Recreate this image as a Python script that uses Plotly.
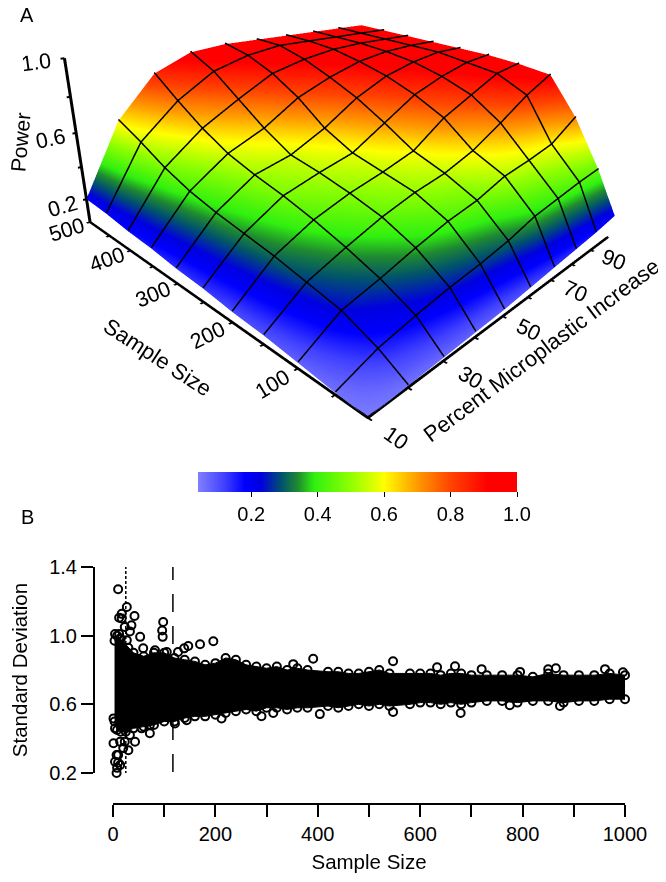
import plotly.graph_objects as go

W = 650
H = 866
PAD = 8  # the page keeps its default body margin


def fx(px):
    return (px - PAD) / W


def fy(py):
    return 1 - (py - PAD) / H


# panel A: power surface
percent = [10, 20, 30, 40, 50, 60, 70, 80, 90, 100]
sample = [10, 50, 100, 150, 200, 250, 300, 350, 400, 450, 500]
power = [
    [0.05, 0.06, 0.07, 0.08, 0.09, 0.11, 0.13, 0.15, 0.17, 0.20],
    [0.06, 0.15, 0.20, 0.24, 0.27, 0.31, 0.37, 0.40, 0.43, 0.45],
    [0.08, 0.23, 0.29, 0.36, 0.42, 0.46, 0.53, 0.56, 0.60, 0.72],
    [0.10, 0.27, 0.36, 0.44, 0.50, 0.54, 0.61, 0.72, 0.84, 0.93],
    [0.11, 0.31, 0.42, 0.49, 0.54, 0.60, 0.74, 0.83, 0.92, 0.95],
    [0.13, 0.34, 0.47, 0.53, 0.58, 0.70, 0.82, 0.89, 0.94, 0.96],
    [0.14, 0.37, 0.51, 0.56, 0.66, 0.79, 0.88, 0.93, 0.96, 0.96],
    [0.16, 0.41, 0.56, 0.65, 0.78, 0.86, 0.92, 0.95, 0.96, 0.96],
    [0.17, 0.47, 0.64, 0.76, 0.87, 0.92, 0.95, 0.96, 0.96, 0.96],
    [0.19, 0.55, 0.74, 0.87, 0.93, 0.96, 0.96, 0.96, 0.96, 0.96],
    [0.20, 0.62, 0.85, 0.94, 0.96, 0.96, 0.96, 0.96, 0.96, 0.96],
]
stop_vals = [0.04, 0.12, 0.18, 0.23, 0.29, 0.34, 0.39, 0.50, 0.60, 0.70, 0.80, 0.91, 1.0]
stop_cols = ["#8080ff", "#4040ff", "#0000ff", "#0000e0", "#005070", "#1f8a30", "#30f010",
             "#90ff00", "#ffff00", "#ff9a00", "#ff4400", "#ff0000", "#ff0000"]

# panel B: outer edge of the cloud, then the stray circles
upper_n = [3, 8, 15, 30, 40, 60, 80, 100, 120, 140, 160, 180, 200, 220, 240, 260, 280, 300, 320, 340,
           360, 380, 420, 440, 460, 480, 500, 520, 540, 580, 600, 620, 640, 660, 680, 700, 730, 760,
           790, 820, 850, 880, 910, 940, 970, 1000]
upper_sd = [0.97, 1.00, 0.98, 0.93, 0.90, 0.88, 0.90, 0.90, 0.87, 0.86, 0.85, 0.83, 0.84, 0.87, 0.86,
            0.83, 0.82, 0.81, 0.82, 0.80, 0.81, 0.80, 0.79, 0.79, 0.78, 0.78, 0.79, 0.80, 0.78, 0.78,
            0.78, 0.78, 0.77, 0.78, 0.78, 0.77, 0.77, 0.77, 0.77, 0.76, 0.78, 0.77, 0.77, 0.77, 0.78, 0.77]
lower_n = [3, 8, 15, 25, 40, 60, 80, 100, 120, 140, 160, 180, 200, 220, 240, 260, 280, 300, 320, 340,
           360, 380, 420, 440, 460, 480, 500, 520, 540, 580, 600, 620, 640, 660, 680, 700, 730, 760,
           790, 820, 850, 880, 910, 940, 970, 1000]
lower_sd = [0.50, 0.45, 0.44, 0.44, 0.46, 0.47, 0.48, 0.50, 0.50, 0.52, 0.53, 0.53, 0.54, 0.55, 0.56,
            0.57, 0.56, 0.58, 0.58, 0.57, 0.58, 0.58, 0.59, 0.58, 0.59, 0.60, 0.59, 0.60, 0.59, 0.60,
            0.61, 0.61, 0.60, 0.61, 0.60, 0.61, 0.62, 0.62, 0.61, 0.62, 0.62, 0.61, 0.62, 0.62, 0.63, 0.63]
stray_n = [5, 10, 27, 17, 12, 42, 36, 33, 53, 4, 12, 98, 96, 97, 196, 170, 147, 139, 127, 212, 144, 121,
           72, 43, 30, 20, 7, 10, 7, 6, 5, 6, 8, 391, 352, 547, 290, 547, 404, 313, 668, 633, 679, 795,
           996, 961, 720, 873, 775, 850, 865, 1, 4, 1, 14, 23, 33, 56, 72, 10, 4, 14, 1, 59, 82, 105,
           17, 23, 14, 27]
stray_sd = [1.41, 1.27, 1.167, 1.127, 1.104, 1.115, 1.06, 1.025, 0.993, 1.01, 1.01, 1.08, 1.03, 0.993,
            0.967, 0.95, 0.94, 0.926, 0.905, 0.517, 0.508, 0.488, 0.432, 0.382, 0.333, 0.345, 0.305, 0.26,
            0.20, 0.12, 0.10, 0.083, 0.23, 0.866, 0.834, 0.851, 0.531, 0.556, 0.543, 0.55, 0.822, 0.816,
            0.55, 0.789, 0.787, 0.805, 0.805, 0.59, 0.595, 0.804, 0.81, 0.518, 0.46, 0.373, 0.382, 0.382,
            0.421, 0.46, 0.479, 0.305, 0.266, 0.247, 0.198, 0.927, 0.915, 0.905, 1.10, 1.05, 0.985, 0.973]
dotted_n = 25
dashed_n = 117

fnt = "Liberation Sans, Arial, sans-serif"
tick_font = dict(size=20, family=fnt, color="black")
title_font = dict(size=20.5, family=fnt, color="black")
span = stop_vals[-1] - stop_vals[0]
cscale = [[(v - stop_vals[0]) / span, c] for v, c in zip(stop_vals, stop_cols)]

fig = go.Figure()
fig.add_trace(go.Surface(
    x=percent, y=sample, z=power,
    colorscale=cscale, cmin=stop_vals[0], cmax=1.0,
    lighting=dict(ambient=1, diffuse=0, specular=0, fresnel=0),
    hoverinfo="skip",
    colorbar=dict(
        orientation="h", x=fx(198), xanchor="left", len=319 / W, lenmode="fraction",
        y=fy(472), yanchor="top", thickness=20, outlinewidth=0, xpad=0, ypad=0,
        tickvals=[0.2, 0.4, 0.6, 0.8, 1.0], ticktext=["0.2", "0.4", "0.6", "0.8", "1.0"],
        ticks="outside", ticklen=5, tickcolor="black", tickfont=tick_font,
    ),
))

# surface contours stay 1px in gl, so the mesh is drawn as 3d lines along the same table
lift = 0.006
grid_line = dict(color="black", width=3)
for i, n in enumerate(sample):
    if 0 < i < len(sample) - 1:
        fig.add_trace(go.Scatter3d(x=percent, y=[n] * len(percent), z=[v + lift for v in power[i]],
                                   mode="lines", line=grid_line, hoverinfo="skip"))
for j, p in enumerate(percent):
    if 0 < j < len(percent) - 1:
        fig.add_trace(go.Scatter3d(x=[p] * len(sample), y=sample, z=[row[j] + lift for row in power],
                                   mode="lines", line=grid_line, hoverinfo="skip"))

axis3d = dict(showgrid=False, zeroline=False, showbackground=False, showspikes=False, showline=True,
              linecolor="black", linewidth=6, ticks="outside", tickcolor="black", tickwidth=4, ticklen=3,
              tickfont=dict(size=16, family=fnt, color="black"), autorange=False, title=dict(text=""))


def label(text, px, py, size, angle=0):
    return dict(text=text, x=fx(px), y=fy(py), xref="paper", yref="paper", xanchor="center", yanchor="middle",
                showarrow=False, textangle=angle, font=dict(size=size))


fig.update_layout(
    width=W, height=H, autosize=False, margin=dict(l=0, r=0, t=0, b=0, autoexpand=False),
    paper_bgcolor="white", plot_bgcolor="white", showlegend=False,
    font=dict(family=fnt, color="black", size=18),
    scene=dict(
        domain=dict(x=[0, 1], y=[1 - 520 / H, 1]),
        aspectmode="manual", aspectratio=dict(x=1.063, y=1.0, z=0.433),
        camera=dict(eye=dict(x=-1.2104, y=-0.9915, z=0.5986),
                    center=dict(x=-0.1551, y=-0.0567, z=-0.2541),
                    up=dict(x=0.3394, y=0.3958, z=0.8534)),
        xaxis=dict(axis3d, range=[10, 100],
                   tickvals=percent[:-1], ticktext=["10", "", "30", "", "50", "", "70", "", "90"]),
        yaxis=dict(axis3d, range=[10, 500],
                   tickvals=[50, 100, 150, 200, 250, 300, 350, 400, 450, 500],
                   ticktext=["", "100", "", "200", "", "300", "", "400", "", "500"]),
        zaxis=dict(axis3d, range=[0.05, 1.0],
                   tickvals=[0.2, 0.4, 0.6, 0.8, 1.0], ticktext=["0.2", "", "0.6", "", "1.0"]),
    ),
    xaxis=dict(domain=[fx(113), fx(625)], range=[0, 1000], anchor="free", position=fy(804),
               showgrid=False, zeroline=False, showline=True, linecolor="black", linewidth=2,
               ticks="outside", ticklen=12, tickwidth=2, tickcolor="black",
               tickvals=[0, 100, 200, 300, 400, 500, 600, 700, 800, 900, 1000],
               ticktext=["0", "", "200", "", "400", "", "600", "", "800", "", "1000"],
               tickfont=tick_font, title=dict(text="Sample Size", standoff=10, font=title_font)),
    yaxis=dict(domain=[fy(773), fy(567)], range=[0.2, 1.4], anchor="free", position=fx(94),
               showgrid=False, zeroline=False, showline=True, linecolor="black", linewidth=2,
               ticks="outside", ticklen=12, tickwidth=2, tickcolor="black",
               tickvals=[0.2, 0.6, 1.0, 1.4], ticktext=["0.2", "0.6", "1.0", "1.4"],
               tickfont=tick_font, title=dict(text="Standard Deviation", standoff=17, font=title_font)),
    annotations=[
        label("A", 27, 15, 20),
        label("B", 27, 517, 20),
        label("Power", 20, 142, 21, -85),
        label("Sample Size", 158, 357, 22, 33),
        label("Percent Microplastic Increase", 541, 350, 22, -37),
    ],
)

fig.add_trace(go.Scatter(
    x=upper_n + lower_n[::-1], y=upper_sd + lower_sd[::-1], mode="lines", fill="toself",
    fillcolor="black", line=dict(color="black", width=1), cliponaxis=False, hoverinfo="skip",
))
circle = dict(symbol="circle-open", size=8, color="black", line=dict(width=2, color="black"))
fig.add_trace(go.Scatter(x=upper_n + lower_n + stray_n, y=upper_sd + lower_sd + stray_sd, mode="markers",
                         marker=circle, cliponaxis=False, hoverinfo="skip"))
fig.add_trace(go.Scatter(x=[dotted_n, dotted_n], y=[0.02, 1.41], mode="lines", cliponaxis=False,
                         line=dict(color="black", width=1.5, dash="3px,2px"), hoverinfo="skip"))
fig.add_trace(go.Scatter(x=[dashed_n, dashed_n], y=[0.02, 1.41], mode="lines", cliponaxis=False,
                         line=dict(color="black", width=1.5, dash="18px,14px"), hoverinfo="skip"))

fig.write_html("out.html")
